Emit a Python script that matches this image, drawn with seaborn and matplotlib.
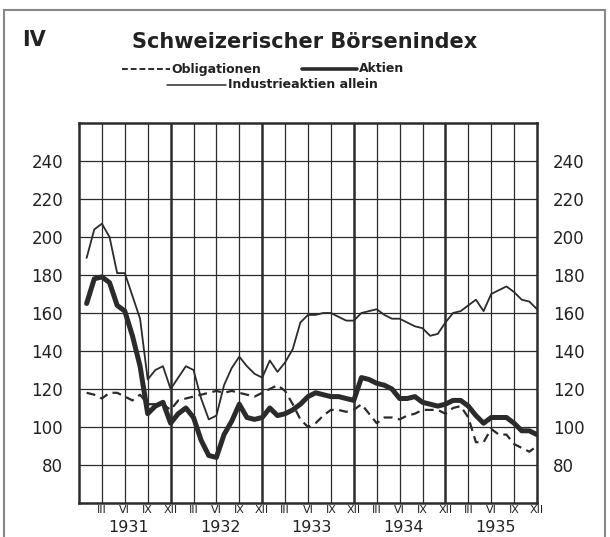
import seaborn as sns
import matplotlib.pyplot as plt
import pandas as pd
from matplotlib.lines import Line2D
from matplotlib.patches import Rectangle
from matplotlib.transforms import blended_transform_factory

# monthly values, Jan 1931 .. Dec 1935
months = list(range(1, 61))
industrie = [189, 204, 207, 200, 181, 181, 169, 157, 125, 130, 132, 120,
             126, 132, 130, 115, 104, 106, 122, 131, 137, 132, 128, 126,
             135, 129, 134, 141, 155, 159, 159, 160, 160, 158, 156, 156,
             160, 161, 162, 159, 157, 157, 155, 153, 152, 148, 149, 155,
             160, 161, 164, 167, 161, 170, 172, 174, 171, 167, 166, 162]
aktien = [165, 178, 179, 176, 164, 161, 148, 132, 107, 111, 113, 102,
          107, 110, 105, 93, 85, 84, 96, 103, 112, 105, 104, 105,
          110, 106, 107, 109, 112, 116, 118, 117, 116, 116, 115, 114,
          126, 125, 123, 122, 120, 115, 115, 116, 113, 112, 111, 112,
          114, 114, 111, 106, 102, 105, 105, 105, 102, 98, 98, 96]
obligationen = [118, 117, 115, 118, 118, 116, 114, 117, 112, 112, 112, 109,
                114, 115, 116, 117, 118, 119, 118, 119, 118, 117, 116, 118,
                120, 122, 119, 112, 104, 100, 102, 106, 109, 109, 108, 109,
                112, 107, 102, 105, 105, 104, 106, 107, 109, 109, 109, 107,
                110, 111, 105, 92, 92, 99, 96, 96, 91, 89, 87, 90]
years = ['1931', '1932', '1933', '1934', '1935']
quarter_labels = ['III', 'VI', 'IX', 'XII']
y_ticks = [80, 100, 120, 140, 160, 180, 200, 220, 240]

df = pd.DataFrame({'monat': months, 'Industrieaktien allein': industrie,
                   'Aktien': aktien, 'Obligationen': obligationen})

sns.set_style('white')
plt.rcParams['font.family'] = ['DejaVu Sans']
narrow = ['Liberation Sans Narrow', 'DejaVu Sans']
ink = '#2b2b2b'

fig = plt.figure(figsize=(6.1, 5.37), dpi=100)
ax = fig.add_axes([79 / 610, 34 / 537, 458 / 610, 380 / 537])

# grid
for v in y_ticks:
    ax.axhline(v, color=ink, lw=0.9, zorder=1)
for m in range(3, 60, 3):
    ax.axvline(m, color=ink, lw=1.8 if m % 12 == 0 else 0.9, zorder=1)

sns.lineplot(data=df, x='monat', y='Industrieaktien allein', ax=ax,
             color=ink, lw=1.3, zorder=3)
sns.lineplot(data=df, x='monat', y='Aktien', ax=ax,
             color=ink, lw=3.6, zorder=3)
sns.lineplot(data=df, x='monat', y='Obligationen', ax=ax,
             color=ink, lw=1.6, linestyle=(0, (4, 2.5)), zorder=3)

ax.set_xlim(0, 60)
ax.set_ylim(60, 260)
ax.set_xlabel('')
ax.set_ylabel('')
for s in ax.spines.values():
    s.set_color(ink)
    s.set_linewidth(1.8)

ax.set_yticks(y_ticks)
ax.tick_params(axis='y', left=False, right=False, labelleft=True,
               labelright=True, labelsize=12, labelcolor='#222222', pad=8)

ax.set_xticks(list(range(3, 61, 3)))
ax.set_xticklabels(quarter_labels * 5, family=narrow, fontsize=8)
ax.set_xticks(list(range(1, 60)), minor=True)
ax.tick_params(axis='x', which='major', length=0, pad=1.5, labelcolor='#222222')
ax.tick_params(axis='x', which='minor', direction='in', length=4,
               width=1.0, color=ink)

trans = blended_transform_factory(ax.transData, ax.transAxes)
for i, yr in enumerate(years):
    ax.text(12 * i + 6.5, -0.064, yr, transform=trans, ha='center',
            va='center', fontsize=11.5, color='#222222')

# header
fig.text(22 / 610, 1 - 40 / 537, 'IV', fontsize=15, fontweight='bold',
         color='#222222', va='center')
fig.text(305 / 610, 1 - 42 / 537, 'Schweizerischer Börsenindex',
         fontsize=15, fontweight='bold', color='#222222', ha='center',
         va='center')

# legend drawn by hand
def legend_item(x0, x1, y, label, **kw):
    yf = 1 - y / 537
    fig.add_artist(Line2D([x0 / 610, x1 / 610], [yf, yf], color=ink, **kw))
    fig.text(x1 / 610 + 0.003, yf, label, family=narrow, fontsize=9,
             fontweight='bold', color='#222222', va='center')

legend_item(122, 170, 69, 'Obligationen', lw=1.4, linestyle=(0, (3, 1.5)))
legend_item(302, 357, 69, 'Aktien', lw=2.6)
legend_item(167, 226, 85, 'Industrieaktien allein', lw=1.1)

# frame round the sheet
fig.add_artist(Rectangle((4 / 610, -0.01), 601 / 610, 1.01 - 10 / 537,
                         transform=fig.transFigure, fill=False,
                         edgecolor='#888888', lw=1.5))

fig.savefig('out.png', dpi=100)
